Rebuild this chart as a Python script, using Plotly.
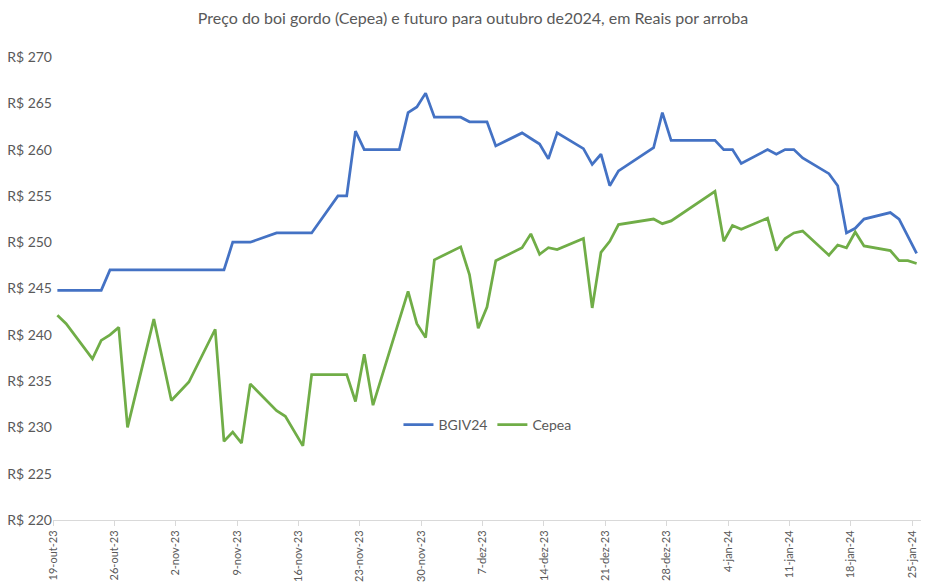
import pandas as pd
import plotly.graph_objects as go

# ---- data ----
dates = [
    "2023-10-19", "2023-10-20", "2023-10-23", "2023-10-24", "2023-10-25", "2023-10-26", "2023-10-27",
    "2023-10-30", "2023-10-31", "2023-11-01", "2023-11-03", "2023-11-06", "2023-11-07", "2023-11-08",
    "2023-11-09", "2023-11-10", "2023-11-13", "2023-11-14", "2023-11-16", "2023-11-17", "2023-11-20",
    "2023-11-21", "2023-11-22", "2023-11-23", "2023-11-24", "2023-11-27", "2023-11-28", "2023-11-29",
    "2023-11-30", "2023-12-01", "2023-12-04", "2023-12-05", "2023-12-06", "2023-12-07", "2023-12-08",
    "2023-12-11", "2023-12-12", "2023-12-13", "2023-12-14", "2023-12-15", "2023-12-18", "2023-12-19",
    "2023-12-20", "2023-12-21", "2023-12-22", "2023-12-26", "2023-12-27", "2023-12-28", "2023-12-29",
    "2024-01-02", "2024-01-03", "2024-01-04", "2024-01-05", "2024-01-08", "2024-01-09", "2024-01-10",
    "2024-01-11", "2024-01-12", "2024-01-15", "2024-01-16", "2024-01-17", "2024-01-18", "2024-01-19",
    "2024-01-22", "2024-01-23", "2024-01-24", "2024-01-25",
]

bgiv24 = [
    244.8, 244.8, 244.8, 244.8, 247.0, 247.0, 247.0,
    247.0, 247.0, 247.0, 247.0, 247.0, 247.0, 250.0,
    250.0, 250.0, 251.0, 251.0, 251.0, 251.0, 255.0,
    255.0, 262.0, 260.0, 260.0, 260.0, 264.0, 264.6,
    266.1, 263.5, 263.5, 263.0, 263.0, 263.0, 260.4,
    261.8, 261.2, 260.6, 259.0, 261.8, 260.1, 258.4,
    259.5, 256.1, 257.7, 260.2, 264.0, 261.0, 261.0,
    261.0, 260.0, 260.0, 258.5, 260.0, 259.5, 260.0,
    260.0, 259.1, 257.4, 256.1, 251.0, 251.5, 252.5,
    253.2, 252.5, None, 248.8,
]

cepea = [
    242.1, 241.2, 237.4, 239.4, 240.0, 240.8, 230.0,
    241.7, None, 232.9, 234.9, 240.6, 228.5, 229.5,
    228.3, 234.7, 231.8, 231.2, 228.0, 235.7, 235.7,
    235.7, 232.8, 237.9, 232.4, None, 244.7, 241.2,
    239.7, 248.1, 249.5, 246.5, 240.7, 243.0, 248.0,
    249.4, 250.9, 248.7, 249.4, 249.2, 250.4, 242.9,
    248.9, 250.1, 251.9, 252.5, 252.0, 252.3, None,
    255.5, 250.1, 251.8, 251.4, 252.6, 249.1, 250.4,
    251.0, 251.2, 248.6, 249.7, 249.4, 251.1, 249.6,
    249.1, 248.0, 248.0, 247.7,
]

tick_dates = ["2023-10-19", "2023-10-26", "2023-11-02", "2023-11-09", "2023-11-16", "2023-11-23",
              "2023-11-30", "2023-12-07", "2023-12-14", "2023-12-21", "2023-12-28", "2024-01-04",
              "2024-01-11", "2024-01-18", "2024-01-25"]
tick_labels = ["19-out-23", "26-out-23", "2-nov-23", "9-nov-23", "16-nov-23", "23-nov-23",
               "30-nov-23", "7-dez-23", "14-dez-23", "21-dez-23", "28-dez-23", "4-jan-24",
               "11-jan-24", "18-jan-24", "25-jan-24"]

title = "Preço do boi gordo (Cepea) e futuro para outubro de2024, em Reais por arroba"

# points are drawn in the middle of each day slot (Excel date axis style)
x = pd.to_datetime(dates) + pd.Timedelta(hours=12)

FONT = "Lato"
GRAY = "#595959"

fig = go.Figure()
fig.add_trace(go.Scatter(x=x, y=bgiv24, name="BGIV24", mode="lines", connectgaps=True,
                         line=dict(color="#4472C4", width=2.75)))
fig.add_trace(go.Scatter(x=x, y=cepea, name="Cepea", mode="lines", connectgaps=True,
                         line=dict(color="#70AD47", width=2.75)))

fig.update_layout(
    width=946, height=587,
    margin=dict(l=53, r=25, t=57, b=67),
    paper_bgcolor="white", plot_bgcolor="white",
    font=dict(family=FONT, color=GRAY, size=13),
    title=dict(text=title, x=0.5, xanchor="center", xref="container",
               y=1 - 18 / 587, yref="container", yanchor="middle",
               font=dict(family=FONT, size=16, color=GRAY)),
    legend=dict(orientation="h", x=0.398, y=0.205, xanchor="left", yanchor="middle",
                bgcolor="rgba(0,0,0,0)", font=dict(size=14, color=GRAY)),
    showlegend=True,
)

fig.update_xaxes(
    type="date", automargin=False,
    range=[pd.Timestamp(tick_dates[0]), pd.Timestamp(tick_dates[-1]) + pd.Timedelta(days=1)],
    tickvals=pd.to_datetime(tick_dates), ticktext=tick_labels,
    tickangle=-90, tickfont=dict(size=11, color=GRAY),
    showline=True, linecolor="#d9d9d9", linewidth=1,
    ticks="outside", ticklen=5, tickcolor="#d9d9d9",
    showgrid=False, zeroline=False,
)
fig.update_yaxes(
    automargin=False,
    range=[220, 270], dtick=5, tickprefix="R$ ", tickformat="d",
    tickfont=dict(size=14, color=GRAY),
    showgrid=False, zeroline=False, showline=False, ticks="",
)

fig.write_html("out.html")
